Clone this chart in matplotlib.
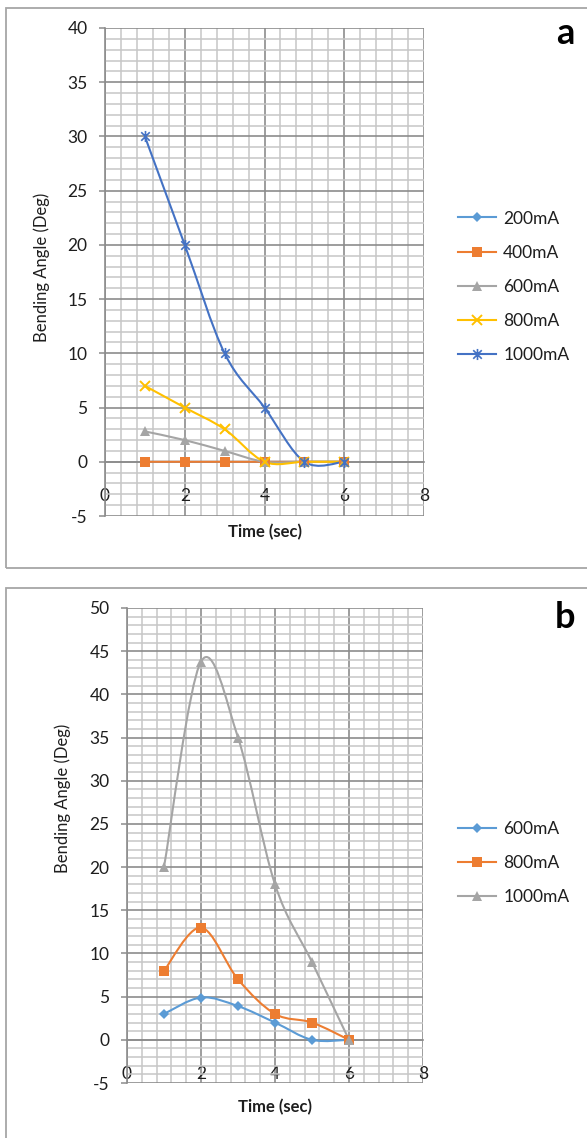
import numpy as np
import matplotlib
matplotlib.use('Agg')
import matplotlib.pyplot as plt
from matplotlib.path import Path
from matplotlib.patches import PathPatch, Rectangle
from matplotlib.lines import Line2D
from matplotlib.ticker import MultipleLocator

plt.rcParams['font.family'] = ['Lato', 'DejaVu Sans']
plt.rcParams['axes.unicode_minus'] = False

# time points shared by every series (sec)
time_s = [1, 2, 3, 4, 5, 6]

# panel a: bending angle (deg) per current
a_labels = ['200mA', '400mA', '600mA', '800mA', '1000mA']
a_200 = [0, 0, 0, 0, 0, 0]
a_400 = [0, 0, 0, 0, 0, 0]
a_600 = [2.8, 2, 1, 0, 0, 0]
a_800 = [7, 5, 3, 0, 0, 0]
a_1000 = [30, 20, 10, 5, 0, 0]

# panel b: bending angle (deg) per current
b_labels = ['600mA', '800mA', '1000mA']
b_600 = [3, 4.9, 3.9, 2, 0, 0]
b_800 = [8, 13, 7, 3, 2, 0]
b_1000 = [20, 43.8, 35, 18, 9, 0]

x_ticks = [0, 2, 4, 6, 8]

BLUE = '#5B9BD5'
ORANGE = '#ED7D31'
GRAY = '#A5A5A5'
YELLOW = '#FFC000'
DKBLUE = '#4472C4'
TXT = '#1E1E1E'

# excel-style "star": an x with a vertical bar through it
STAR = Path([(-1, -1), (1, 1), (-1, 1), (1, -1), (0, -1.3), (0, 1.3)],
            [Path.MOVETO, Path.LINETO, Path.MOVETO, Path.LINETO,
             Path.MOVETO, Path.LINETO])

MARKERS = {
    'diamond': dict(marker='D', ms=5, mew=0),
    'square': dict(marker='s', ms=7.5, mew=0),
    'triangle': dict(marker='^', ms=7.5, mew=0),
    'x': dict(marker='x', ms=7, mew=1.4),
    'star': dict(marker=STAR, ms=8, mew=1.2),
}


def smooth_path(x, y):
    # bezier through the points, catmull-rom tangents like a "smoothed line"
    pts = np.column_stack([x, y]).astype(float)
    n = len(pts)
    verts = [pts[0]]
    codes = [Path.MOVETO]
    for i in range(n - 1):
        p0 = pts[max(i - 1, 0)]
        p1 = pts[i]
        p2 = pts[i + 1]
        p3 = pts[min(i + 2, n - 1)]
        verts += [p1 + (p2 - p0) / 6.0, p2 - (p3 - p1) / 6.0, p2]
        codes += [Path.CURVE4] * 3
    return Path(verts, codes)


def draw_panel(ax, series, ymin, ymax):
    ax.set_xlim(0, 8)
    ax.set_ylim(ymin, ymax)
    ax.xaxis.set_major_locator(MultipleLocator(2))
    ax.xaxis.set_minor_locator(MultipleLocator(0.4))
    ax.yaxis.set_major_locator(MultipleLocator(5))
    ax.yaxis.set_minor_locator(MultipleLocator(1))
    ax.grid(which='major', color='#8C8C8C', lw=1.2)
    ax.grid(which='minor', color='#C6C6C6', lw=1.1)
    ax.set_axisbelow(True)

    for s in ['top', 'right']:
        ax.spines[s].set_visible(False)
    ax.spines['bottom'].set_position(('data', 0))
    ax.spines['bottom'].set_color('#8C8C8C')
    ax.spines['left'].set_color('#8C8C8C')
    ax.spines['bottom'].set_linewidth(1.2)
    ax.spines['left'].set_linewidth(1.2)

    ax.tick_params(axis='x', which='both', length=0, pad=19,
                   labelsize=12.5, labelcolor=TXT)
    ax.tick_params(axis='y', which='major', length=4.5, width=1.1,
                   color='#8C8C8C', pad=8, labelsize=12.5, labelcolor=TXT)
    ax.tick_params(axis='y', which='minor', length=0)

    handles = []
    for label, ys, color, mk in series:
        ax.add_patch(PathPatch(smooth_path(time_s, ys), fill=False,
                               edgecolor=color, lw=1.5, zorder=3))
        st = MARKERS[mk]
        mec = color if mk in ('x', 'star') else 'none'
        ax.plot(time_s, ys, ls='none', color=color, mec=mec, zorder=4,
                clip_on=False, **st)
        handles.append(Line2D([], [], color=color, lw=1.5, mec=mec,
                              label=label, **st))
    return handles


W, H = 587, 1138
fig = plt.figure(figsize=(W / 100, H / 100), dpi=100)


def fig_rect(left, top, right, bottom):
    return [left / W, 1 - bottom / H, (right - left) / W, (bottom - top) / H]


# outer frames around each panel
for top, bottom in [(8, 568), (588, 1160)]:
    fig.patches.append(Rectangle((6 / W, 1 - bottom / H), 1.0, (bottom - top) / H,
                                 transform=fig.transFigure, fill=False,
                                 edgecolor='#A6A6A6', lw=1.3))

ax_a = fig.add_axes(fig_rect(105, 28, 424, 516))
ax_b = fig.add_axes(fig_rect(127, 608, 423, 1083))

h_a = draw_panel(ax_a, [
    (a_labels[0], a_200, BLUE, 'diamond'),
    (a_labels[1], a_400, ORANGE, 'square'),
    (a_labels[2], a_600, GRAY, 'triangle'),
    (a_labels[3], a_800, YELLOW, 'x'),
    (a_labels[4], a_1000, DKBLUE, 'star'),
], -5, 40)

h_b = draw_panel(ax_b, [
    (b_labels[0], b_600, BLUE, 'diamond'),
    (b_labels[1], b_800, ORANGE, 'square'),
    (b_labels[2], b_1000, GRAY, 'triangle'),
], -5, 50)

for ax, xl_y, yl_x, yl_y in [(ax_a, -0.033, -0.197, 0.51),
                             (ax_b, -0.05, -0.216, 0.60)]:
    ax.set_xticks(x_ticks)
    ax.text(0.5, xl_y, 'Time (sec)', transform=ax.transAxes, ha='center',
            va='center', fontsize=12, fontweight='bold', color=TXT)
    ax.text(yl_x, yl_y, 'Bending Angle (Deg)', transform=ax.transAxes,
            ha='center', va='center', rotation=90, fontsize=12, color=TXT)

for handles, cy in [(h_a, 287), (h_b, 863)]:
    fig.legend(handles=handles, loc='center left',
               bbox_to_anchor=(458 / W, 1 - cy / H), frameon=False,
               fontsize=12.5, handlelength=2.2, handletextpad=0.4,
               labelspacing=1.05, borderpad=0, borderaxespad=0,
               labelcolor=TXT)

fig.text(565 / W, 1 - 33 / H, 'a', ha='center', va='center', fontsize=26,
         fontweight='bold', color='black')
fig.text(565 / W, 1 - 617 / H, 'b', ha='center', va='center', fontsize=26,
         fontweight='bold', color='black')

fig.savefig('out.png', dpi=100)
